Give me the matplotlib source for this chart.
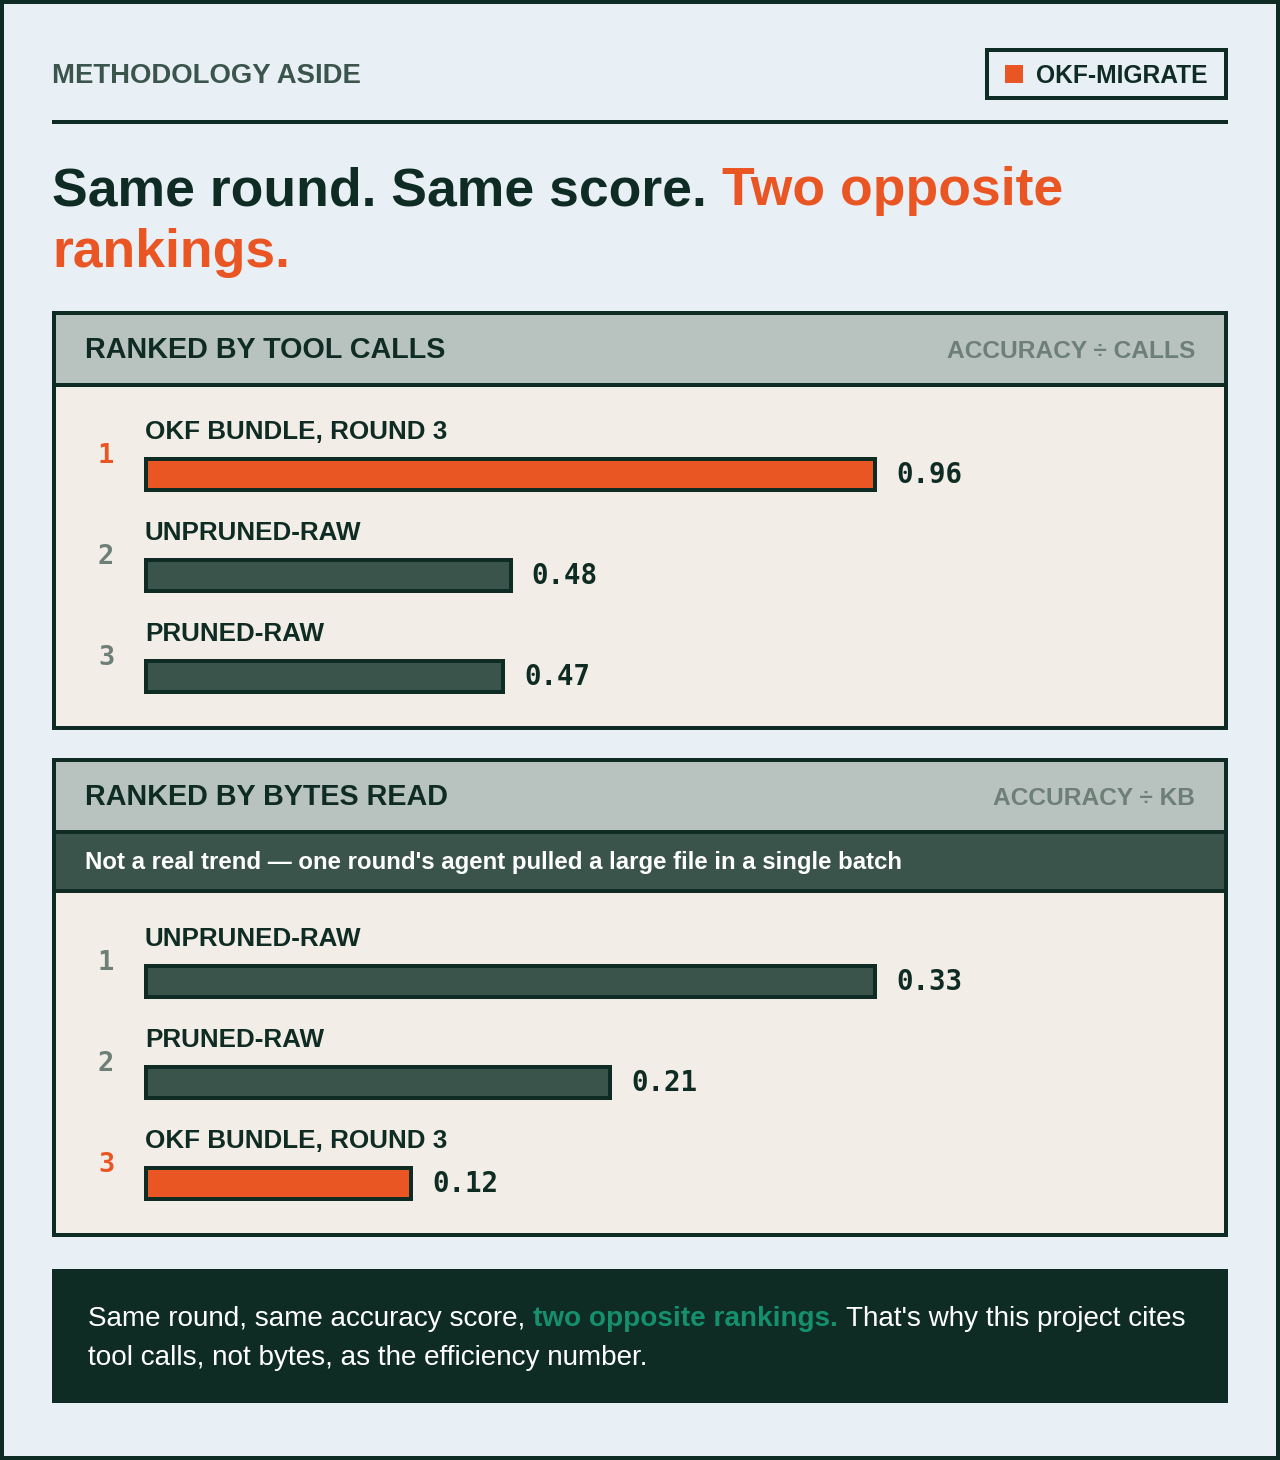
import matplotlib
matplotlib.use('Agg')
import matplotlib.pyplot as plt
from matplotlib.patches import Rectangle

# data

calls_labels = ['OKF BUNDLE, ROUND 3', 'UNPRUNED-RAW', 'PRUNED-RAW']
calls_values = [0.96, 0.48, 0.47]
bytes_labels = ['UNPRUNED-RAW', 'PRUNED-RAW', 'OKF BUNDLE, ROUND 3']
bytes_values = [0.33, 0.21, 0.12]
highlight = 'OKF BUNDLE, ROUND 3'

# colours / fonts

BG = '#e8eff5'
INK = '#0f2c24'
ORANGE = '#ea5524'
BAR_DARK = '#3a544b'
HEADER = '#b8c2be'
CREAM = '#f2ede6'
MUTED = '#6e7f78'
SUB = '#3b554c'
TEAL = '#15906d'
SANS = 'Liberation Sans'
MONO = 'DejaVu Sans Mono'


def pt(px):
    return px * 0.72


fig = plt.figure(figsize=(12.8, 14.6), dpi=100)
fig.patch.set_facecolor(INK)
ax = fig.add_axes([0, 0, 1, 1])
ax.set_xlim(0, 1280)
ax.set_ylim(1460, 0)
ax.axis('off')
renderer = fig.canvas.get_renderer()


def box(x0, y0, x1, y1, fc):
    ax.add_patch(Rectangle((x0, y0), x1 - x0, y1 - y0, facecolor=fc, edgecolor='none', linewidth=0))


def text_width(s, **kw):
    t = ax.text(0, 0, s, **kw)
    w = t.get_window_extent(renderer=renderer).width
    t.remove()
    return w


def runs(x, y, parts, size):
    # parts: (text, colour, weight), one space between each
    for s, color, weight in parts:
        kw = dict(fontsize=size, fontweight=weight, family=SANS)
        t = ax.text(x, y, s, color=color, ha='left', va='baseline', **kw)
        bb = t.get_window_extent(renderer=renderer)
        space = text_width('x x', **kw) - text_width('xx', **kw)
        x = ax.transData.inverted().transform((bb.x1, bb.y0))[0] + space


box(4, 4, 1276, 1456, BG)

# top strip

ax.text(52, 83, 'METHODOLOGY ASIDE', fontsize=pt(27.5), fontweight='bold', family=SANS, color=SUB,
        ha='left', va='baseline')
box(985, 48, 1228, 100, INK)
box(989, 52, 1224, 96, BG)
box(1005, 65, 1023, 83, ORANGE)
ax.text(1036, 83, 'OKF-MIGRATE', fontsize=pt(24.6), fontweight='bold', family=SANS, color=INK,
        ha='left', va='baseline')
box(52, 120, 1228, 124, INK)

# title

runs(52, 205, [('Same round. Same score.', INK, 'bold'), ('Two opposite', ORANGE, 'bold')], pt(53.5))
runs(52, 267, [('rankings.', ORANGE, 'bold')], pt(53.5))


# panels

def panel(y0, y1, head_bottom, title, unit, base):
    box(52, y0, 1228, y1, INK)
    box(56, y0 + 4, 1224, y1 - 4, CREAM)
    box(56, y0 + 4, 1224, head_bottom, HEADER)
    box(56, head_bottom, 1224, head_bottom + 4, INK)
    ax.text(85, base, title, fontsize=pt(28.7), fontweight='bold', family=SANS, color=INK,
            ha='left', va='baseline')
    ax.text(1195, base, unit, fontsize=pt(24.5), fontweight='bold', family=SANS, color=MUTED,
            ha='right', va='baseline')


def bar_rows(first_center, labels, values):
    pitch = 101
    top = first_center - pitch / 2
    h = pitch * len(values)
    left, right = 146, 875
    bax = fig.add_axes([left / 1280, 1 - (top + h) / 1460, (right - left) / 1280, h / 1460])
    bax.set_xlim(0, max(values))
    bax.set_ylim(len(values) - 0.5, -0.5)
    bax.axis('off')
    colors = [ORANGE if l == highlight else BAR_DARK for l in labels]
    bars = bax.barh(range(len(values)), values, height=31 / pitch, color=colors,
                    edgecolor=INK, linewidth=pt(4))
    for b in bars:
        b.set_clip_on(False)
    for i, (lab, v) in enumerate(zip(labels, values)):
        bax.annotate(lab, (0, i), xytext=(-1, 35), textcoords='offset pixels', annotation_clip=False,
                     fontsize=pt(26), fontweight='bold', family=SANS, color=INK, ha='left', va='baseline')
        bax.annotate(str(i + 1), (0, i), xytext=(-40, 11), textcoords='offset pixels', annotation_clip=False,
                     fontsize=pt(27), fontweight='bold', family=MONO,
                     color=ORANGE if lab == highlight else MUTED, ha='center', va='baseline')
        bax.annotate(f'{v:.2f}', (v, i), xytext=(21, -9), textcoords='offset pixels', annotation_clip=False,
                     fontsize=pt(27.5), fontweight='bold', family=MONO, color=INK, ha='left', va='baseline')


panel(311, 730, 383, 'RANKED BY TOOL CALLS', 'ACCURACY ÷ CALLS', 358)
bar_rows(474, calls_labels, calls_values)

panel(758, 1237, 830, 'RANKED BY BYTES READ', 'ACCURACY ÷ KB', 805)
box(56, 834, 1224, 889, BAR_DARK)
box(56, 889, 1224, 893, INK)
ax.text(85, 869, "Not a real trend \u2014 one round's agent pulled a large file in a single batch",
        fontsize=pt(24), fontweight='bold', family=SANS, color='white', ha='left', va='baseline')
bar_rows(981, bytes_labels, bytes_values)

# footer

box(52, 1269, 1228, 1403, INK)
runs(88, 1326, [('Same round, same accuracy score,', 'white', 'normal'),
                ('two opposite rankings.', TEAL, 'bold'),
                ("That's why this project cites", 'white', 'normal')], pt(27.9))
runs(88, 1365, [('tool calls, not bytes, as the efficiency number.', 'white', 'normal')], pt(27.9))

fig.savefig('out.png', dpi=100, facecolor=fig.get_facecolor())
